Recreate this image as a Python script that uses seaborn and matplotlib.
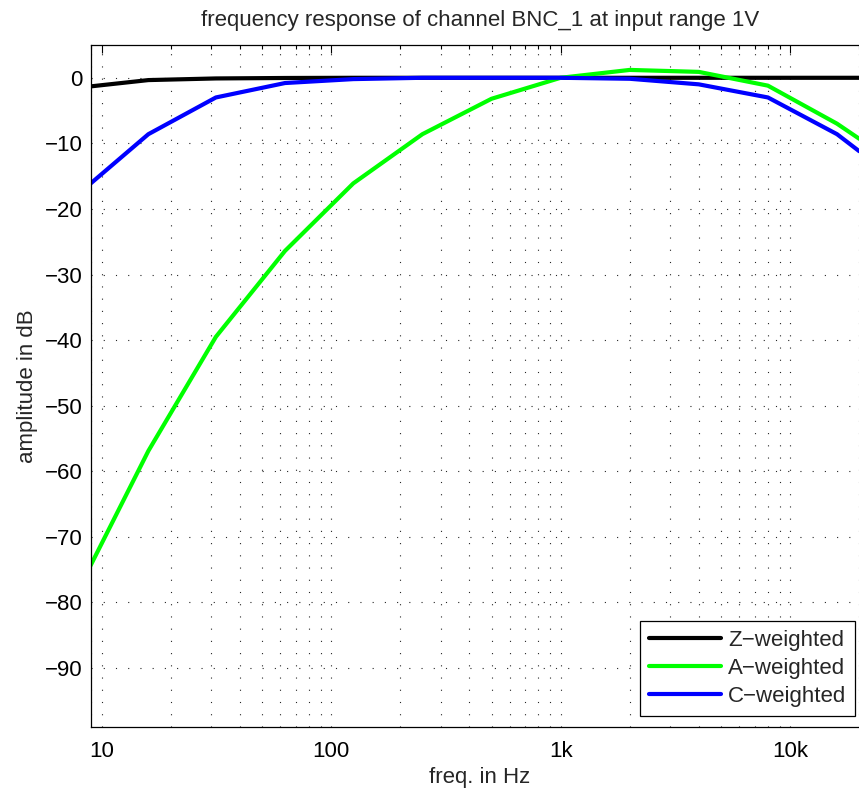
import numpy as np
import pandas as pd
import matplotlib
matplotlib.use("Agg")
import matplotlib.pyplot as plt
import matplotlib.ticker as mticker
import seaborn as sns

# octave band centre frequencies (Hz)
freqs = [8, 16, 31.5, 63, 125, 250, 500, 1000, 2000, 4000, 8000, 16000, 20000]

z_weighted = [-1.5, -0.35, -0.1, -0.03, 0.0, 0.0, 0.0, 0.0, 0.0, 0.0, 0.0, 0.0, 0.0]
a_weighted = [-77.8, -56.9, -39.5, -26.4, -16.1, -8.6, -3.2, 0.0, 1.2, 0.9, -1.2, -7.0, -9.3]
c_weighted = [-17.6, -8.6, -3.0, -0.8, -0.2, 0.0, 0.0, 0.0, -0.15, -1.0, -3.0, -8.6, -11.2]

series_names = ["Z\u2212weighted", "A\u2212weighted", "C\u2212weighted"]
series_colors = ["#000000", "#00ff00", "#0000ff"]

x_ticks = [10, 100, 1000, 10000]
x_ticklabels = ["10", "100", "1k", "10k"]
y_ticks = list(range(0, -100, -10))

df = pd.DataFrame({
    "freq": freqs * 3,
    "amp": z_weighted + a_weighted + c_weighted,
    "curve": [series_names[0]] * len(freqs) + [series_names[1]] * len(freqs)
             + [series_names[2]] * len(freqs),
})

sns.set_style("white")
plt.rcParams["font.family"] = ["Liberation Sans", "DejaVu Sans"]
plt.rcParams["axes.unicode_minus"] = True

fs = 16
fig = plt.figure(figsize=(8.59, 7.90), dpi=100)
ax = fig.add_axes([91 / 859, (790 - 727) / 790, (869 - 91) / 859, (727 - 45) / 790])

sns.lineplot(data=df, x="freq", y="amp", hue="curve", hue_order=series_names,
             palette=series_colors, linewidth=3.0, ax=ax, sort=False)

ax.set_xscale("log")
ax.set_xlim(9, 22050)
ax.set_ylim(-99, 5)

ax.xaxis.set_major_locator(mticker.FixedLocator(x_ticks))
ax.xaxis.set_major_formatter(mticker.FixedFormatter(x_ticklabels))
ax.xaxis.set_minor_locator(mticker.LogLocator(base=10, subs=np.arange(2, 10), numticks=20))
ax.xaxis.set_minor_formatter(mticker.NullFormatter())
ax.set_yticks(y_ticks)

ax.tick_params(which="both", direction="in", top=True, right=True,
               labelsize=fs, colors="k", width=0.8)
ax.tick_params(which="major", length=6)
ax.tick_params(which="minor", length=3)
ax.tick_params(axis="x", which="major", pad=10)
ax.tick_params(axis="y", which="major", pad=6)

dots = (0, (1, 10))
ax.grid(which="major", axis="both", linestyle=dots, color="0.15", linewidth=0.8)
ax.grid(which="minor", axis="x", linestyle=dots, color="0.15", linewidth=0.8)

for s in ax.spines.values():
    s.set_visible(True)
    s.set_color("k")
    s.set_linewidth(0.9)

ax.set_xlabel("freq. in Hz", fontsize=fs, labelpad=4)
ax.set_ylabel("amplitude in dB", fontsize=fs, labelpad=5)
ax.set_title("frequency response of channel BNC_1 at input range 1V", fontsize=fs, pad=14)

leg = ax.legend(loc="lower right", bbox_to_anchor=(1 - 14 / 778, 11 / 682), fontsize=fs,
                frameon=True, fancybox=False, edgecolor="k", framealpha=1,
                handlelength=3.25, handletextpad=0.3, labelspacing=0.32,
                borderpad=0.4, borderaxespad=0.0)
leg.get_frame().set_linewidth(0.9)
for line in leg.get_lines():
    line.set_linewidth(3.0)

fig.savefig("out.png", dpi=100)
